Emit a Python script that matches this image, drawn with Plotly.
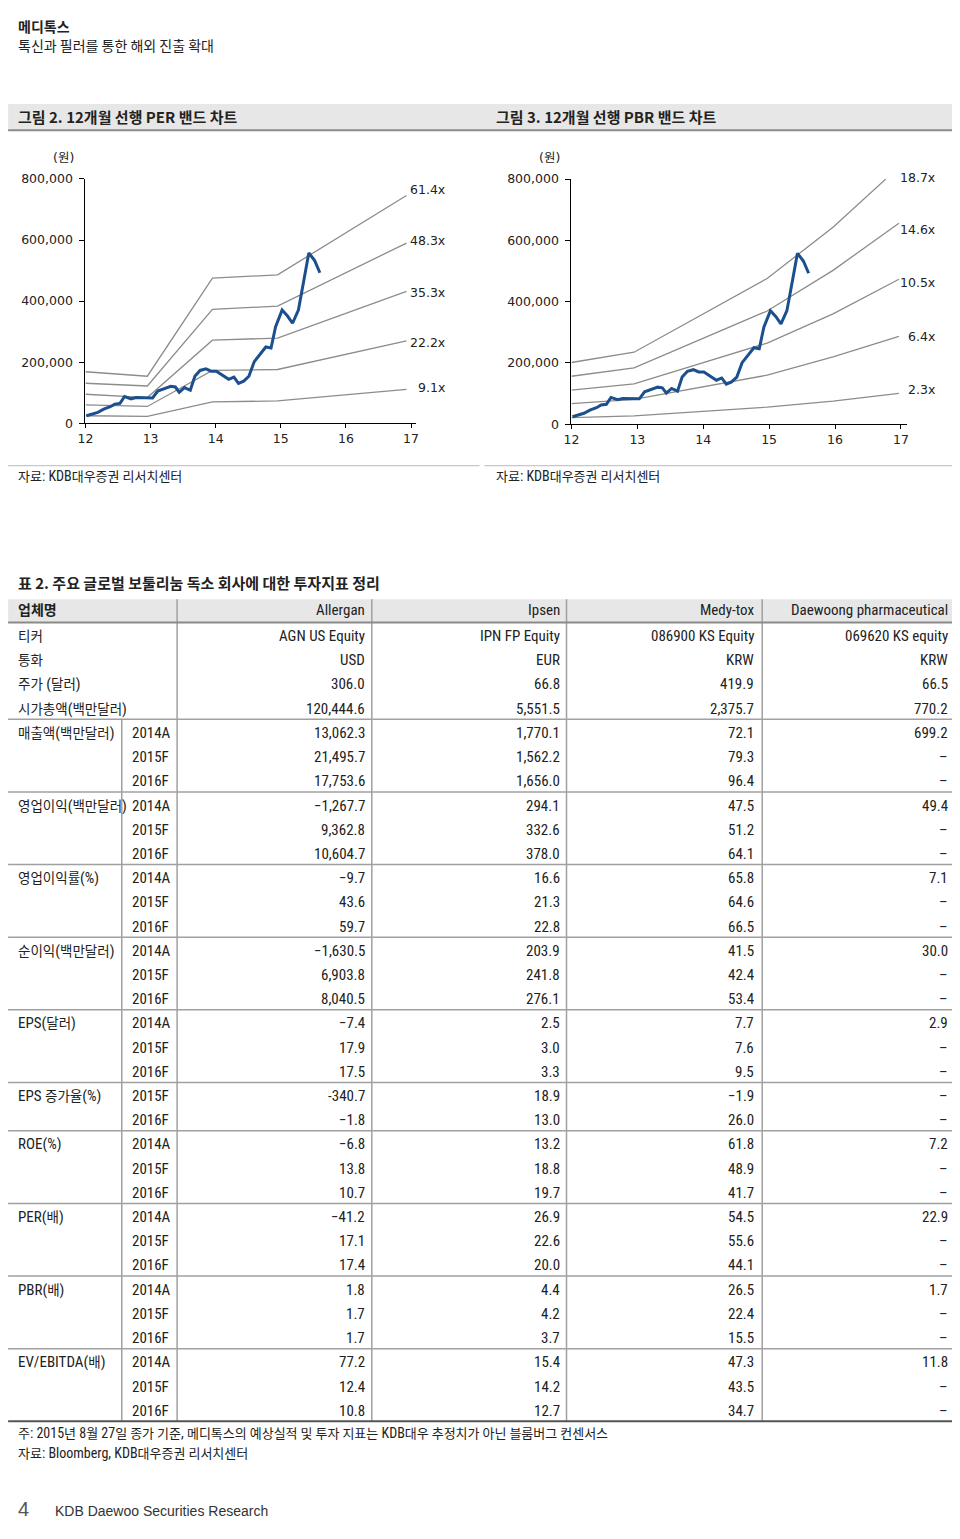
import re
import plotly.graph_objects as go

# The page body keeps its default 8px margin, so the figure is made 16px smaller
# than the 960x1539 window and every position below is given in window pixels.
PAGE_W, PAGE_H = 960, 1539
OFF = 8
W, H = PAGE_W - 2 * OFF, PAGE_H - 2 * OFF


def fx(p):
    return (p - OFF) / W


def fy(p):
    return 1 - (p - OFF) / H


# ---------------- chart data ----------------
year_ticks = [12, 13, 14, 15, 16, 17]
won_ticks = [0, 200000, 400000, 600000, 800000]
won_tick_text = ["0", "200,000", "400,000", "600,000", "800,000"]

price_years = [12.015, 12.10, 12.19, 12.28, 12.38, 12.45, 12.53, 12.60, 12.70, 12.78,
               12.88, 12.96, 13.03, 13.11, 13.21, 13.31, 13.38, 13.44, 13.52, 13.61,
               13.68, 13.76, 13.85, 13.93, 14.01, 14.11, 14.20, 14.28, 14.35, 14.43,
               14.51, 14.59, 14.68, 14.77, 14.85, 14.92, 15.02, 15.10, 15.18, 15.27,
               15.34, 15.43, 15.52, 15.60]
price_won = [24600, 30000, 35700, 46000, 54000, 62600, 65000, 87500, 80000, 84000,
             84000, 85000, 83000, 105700, 114500, 121000, 118700, 101500, 116700, 108000,
             154000, 173000, 178000, 170600, 170600, 157600, 143700, 151000, 130700, 138000,
             154000, 201000, 224700, 249700, 246400, 316500, 370600, 352000, 327500, 370600,
             451700, 557700, 532800, 492800]

per_band_years = [12.0, 12.95, 13.95, 14.95, 16.93]
per_band_names = ["61.4x", "48.3x", "35.3x", "22.2x", "9.1x"]
per_band_values = [
    [168600, 154000, 475000, 486000, 745800],
    [131000, 122000, 373000, 383600, 590000],
    [95000, 84000, 272000, 279000, 432000],
    [60000, 55000, 173000, 176000, 270000],
    [24600, 22700, 70000, 73000, 111000],
]

pbr_band_names = ["18.7x", "14.6x", "10.5x", "6.4x", "2.3x"]
pbr_band_years = [
    [12.0, 12.95, 14.97, 15.97, 16.77],
    [12.0, 12.95, 14.97, 15.97, 16.97],
    [12.0, 12.95, 14.97, 15.97, 16.97],
    [12.0, 12.95, 14.97, 15.97, 16.97],
    [12.0, 12.95, 14.97, 15.97, 16.97],
]
pbr_band_values = [
    [201500, 235000, 475600, 642800, 800000],
    [156600, 183800, 369600, 502000, 656000],
    [111000, 132000, 265000, 360000, 473000],
    [67000, 81000, 160000, 219500, 287000],
    [21600, 27000, 56000, 75700, 100500],
]

# ---------------- table data ----------------
companies = ["Allergan", "Ipsen", "Medy-tox", "Daewoong pharmaceutical"]
group_labels = ["티커", "통화", "주가 (달러)", "시가총액(백만달러)", "매출액(백만달러)",
                "영업이익(백만달러)", "영업이익률(%)", "순이익(백만달러)", "EPS(달러)",
                "EPS 증가율(%)", "ROE(%)", "PER(배)", "PBR(배)", "EV/EBITDA(배)"]
group_row_counts = [1, 1, 1, 1, 3, 3, 3, 3, 3, 2, 3, 3, 3, 3]
period_labels = ["", "", "", "",
                 "2014A", "2015F", "2016F", "2014A", "2015F", "2016F",
                 "2014A", "2015F", "2016F", "2014A", "2015F", "2016F",
                 "2014A", "2015F", "2016F", "2015F", "2016F",
                 "2014A", "2015F", "2016F", "2014A", "2015F", "2016F",
                 "2014A", "2015F", "2016F", "2014A", "2015F", "2016F"]
allergan = ["AGN US Equity", "USD", "306.0", "120,444.6",
            "13,062.3", "21,495.7", "17,753.6", "−1,267.7", "9,362.8", "10,604.7",
            "−9.7", "43.6", "59.7", "−1,630.5", "6,903.8", "8,040.5",
            "−7.4", "17.9", "17.5", "-340.7", "−1.8",
            "−6.8", "13.8", "10.7", "−41.2", "17.1", "17.4",
            "1.8", "1.7", "1.7", "77.2", "12.4", "10.8"]
ipsen = ["IPN FP Equity", "EUR", "66.8", "5,551.5",
         "1,770.1", "1,562.2", "1,656.0", "294.1", "332.6", "378.0",
         "16.6", "21.3", "22.8", "203.9", "241.8", "276.1",
         "2.5", "3.0", "3.3", "18.9", "13.0",
         "13.2", "18.8", "19.7", "26.9", "22.6", "20.0",
         "4.4", "4.2", "3.7", "15.4", "14.2", "12.7"]
medytox = ["086900 KS Equity", "KRW", "419.9", "2,375.7",
           "72.1", "79.3", "96.4", "47.5", "51.2", "64.1",
           "65.8", "64.6", "66.5", "41.5", "42.4", "53.4",
           "7.7", "7.6", "9.5", "−1.9", "26.0",
           "61.8", "48.9", "41.7", "54.5", "55.6", "44.1",
           "26.5", "22.4", "15.5", "47.3", "43.5", "34.7"]
daewoong = ["069620 KS equity", "KRW", "66.5", "770.2",
            "699.2", "–", "–", "49.4", "–", "–",
            "7.1", "–", "–", "30.0", "–", "–",
            "2.9", "–", "–", "–", "–",
            "7.2", "–", "–", "22.9", "–", "–",
            "1.7", "–", "–", "11.8", "–", "–"]

# ---------------- helpers ----------------
KR = "Noto Sans CJK KR"
NARROW = "Roboto Condensed, Noto Sans CJK KR"
annotations, shapes = [], []


def ann(x, y, text, size=14, xanchor="left", color="#222", family=KR, bold=False):
    if bold:
        text = "<b>" + text + "</b>"
    if xanchor == "left":
        x = max(x, OFF)
    annotations.append(dict(x=fx(x), y=fy(y), xref="paper", yref="paper", text=text,
                            showarrow=False, xanchor=xanchor, yanchor="middle",
                            font=dict(size=size, color=color, family=family)))


def mixed(text, latin_px):
    parts = re.split(r"([\x20-\x7e]+)", text)
    out = ""
    for p in parts:
        if not p:
            continue
        if re.fullmatch(r"[\x20-\x7e]+", p) and p.strip():
            out += "<span style='font-size:%spx'>%s</span>" % (latin_px, p)
        else:
            out += p
    return out


def hline(x0, x1, y, color="#999", width=1.5):
    shapes.append(dict(type="line", xref="paper", yref="paper", x0=fx(x0), x1=fx(x1),
                       y0=fy(y), y1=fy(y), line=dict(color=color, width=width)))


def vline(x, y0, y1, color="#999", width=1.5):
    shapes.append(dict(type="line", xref="paper", yref="paper", x0=fx(x), x1=fx(x),
                       y0=fy(y0), y1=fy(y1), line=dict(color=color, width=width)))


def rect(x0, y0, x1, y1, fill):
    shapes.append(dict(type="rect", xref="paper", yref="paper", x0=fx(x0), x1=fx(x1),
                       y0=fy(y1), y1=fy(y0), line=dict(width=0), fillcolor=fill,
                       layer="below"))


fig = go.Figure()

BAND = "#8c8c8c"
PRICE = "#1c4f8d"

for vals in per_band_values:
    fig.add_trace(go.Scatter(x=per_band_years, y=vals, mode="lines",
                             line=dict(color=BAND, width=1.3), xaxis="x", yaxis="y",
                             hoverinfo="skip"))
fig.add_trace(go.Scatter(x=price_years, y=price_won, mode="lines",
                         line=dict(color=PRICE, width=3), xaxis="x", yaxis="y"))
for yrs, vals in zip(pbr_band_years, pbr_band_values):
    fig.add_trace(go.Scatter(x=yrs, y=vals, mode="lines",
                             line=dict(color=BAND, width=1.3), xaxis="x2", yaxis="y2",
                             hoverinfo="skip"))
fig.add_trace(go.Scatter(x=price_years, y=price_won, mode="lines",
                         line=dict(color=PRICE, width=3), xaxis="x2", yaxis="y2"))

TICKFONT = dict(family="DejaVu Sans", size=12.5, color="#222")


def xax(d0, d1, r1, anchor):
    return dict(domain=[fx(d0), fx(d1)], range=[12, r1], tickvals=year_ticks,
                ticktext=[str(v) for v in year_ticks], ticks="outside", ticklen=4,
                tickcolor="black", showline=True, linecolor="black", linewidth=1.2,
                showgrid=False, zeroline=False, tickfont=TICKFONT, anchor=anchor,
                fixedrange=True)


def yax(top, bottom, anchor):
    return dict(domain=[fy(bottom), fy(top)], range=[0, 800000], tickvals=won_ticks,
                ticktext=won_tick_text, ticks="outside", ticklen=5, tickcolor="black",
                showline=True, linecolor="black", linewidth=1.2, showgrid=False,
                zeroline=False, tickfont=TICKFONT, anchor=anchor, ticklabelstandoff=4,
                fixedrange=True)


# ---------------- page text ----------------
ann(1, 18, "메디톡스", size=14, bold=True)
ann(1, 37, "톡신과 필러를 통한 해외 진출 확대", size=14)

rect(0, 97, 960, 123, "#e7e7e7")
hline(0, 960, 123.5, color="#8a8a8a", width=2)
ann(1, 110, "그림 2. 12개월 선행 PER 밴드 차트", size=15, bold=True)
ann(492, 110, "그림 3. 12개월 선행 PBR 밴드 차트", size=15, bold=True)

ann(56, 151, "(원)", size=12.5, xanchor="center", family="DejaVu Sans, " + KR)
ann(548, 151, "(원)", size=12.5, xanchor="center", family="DejaVu Sans, " + KR)

per_label_y = [183, 235, 287, 338, 383]
for name, yy in zip(per_band_names, per_label_y):
    ann(444, yy, name, size=12.5, xanchor="right", family="DejaVu Sans")
pbr_label_y = [171, 224, 277, 332, 385]
for name, yy in zip(pbr_band_names, pbr_label_y):
    ann(940, yy, name, size=12.5, xanchor="right", family="DejaVu Sans")

hline(0, 477, 462, color="#c8c8c8", width=1.2)
hline(482, 958, 462, color="#c8c8c8", width=1.2)
ann(1, 473, mixed("자료: KDB대우증권 리서치센터", 14), size=13, family=NARROW)
ann(492, 473, mixed("자료: KDB대우증권 리서치센터", 14), size=13, family=NARROW)

# ---------------- table ----------------
ann(1, 580, "표 2. 주요 글로벌 보툴리눔 독소 회사에 대한 투자지표 정리", size=15, bold=True)
rect(0, 597, 960, 620, "#e7e7e7")
TOP = 620.5
RH = 24.45
col_lines = [171, 368, 565, 763]
col_right = [363, 560, 757, 953]
n_rows = len(period_labels)
bottom = TOP + RH * n_rows
for xv in col_lines:
    vline(xv, 597, bottom, color="#a0a0a0", width=1.5)
vline(115, TOP + RH * 4, bottom, color="#a0a0a0", width=1.5)
hline(0, 960, TOP, color="#8a8a8a", width=2)

ann(1, 608, "업체명", size=14, family=NARROW, bold=True)
for name, xr in zip(companies, col_right):
    ann(xr, 608, name, size=15, xanchor="right", family=NARROW)

row = 0
for lab, cnt in zip(group_labels, group_row_counts):
    ann(1, TOP + RH * row + RH / 2 + 1.5, mixed(lab, 15), size=13.5, family=NARROW)
    row += cnt
    if row < n_rows and row >= 4:
        hline(0, 960, TOP + RH * row, color="#a0a0a0", width=1.5)
hline(0, 960, bottom, color="#555", width=2)

for i in range(n_rows):
    yc = TOP + RH * i + RH / 2 + 1.5
    if period_labels[i]:
        ann(123, yc, period_labels[i], size=15, family=NARROW)
    for col, xr in zip([allergan, ipsen, medytox, daewoong], col_right):
        ann(xr, yc, col[i], size=15, xanchor="right", family=NARROW)

ann(1, 1439, mixed("주: 2015년 8월 27일 종가 기준, 메디톡스의 예상실적 및 투자 지표는 KDB대우 추정치가 아닌 블룸버그 컨센서스", 14),
    size=13, family=NARROW)
ann(1, 1459, mixed("자료: Bloomberg, KDB대우증권 리서치센터", 14), size=13, family=NARROW)

ann(1, 1516, "4", size=20, color="#555", family="Liberation Sans")
ann(45, 1518, "KDB Daewoo Securities Research", size=14, color="#333", family="Liberation Sans")

fig.update_layout(
    width=W, height=H, margin=dict(l=0, r=0, t=0, b=0), showlegend=False,
    paper_bgcolor="white", plot_bgcolor="white",
    xaxis=xax(78.3, 412.3, 17.07, "y"),
    yaxis=yax(172.6, 419.3, "x"),
    xaxis2=xax(570, 910, 17.1, "y2"),
    yaxis2=yax(172.7, 420.3, "x2"),
    annotations=annotations, shapes=shapes,
)

fig.write_html("out.html", config={"displayModeBar": False})
